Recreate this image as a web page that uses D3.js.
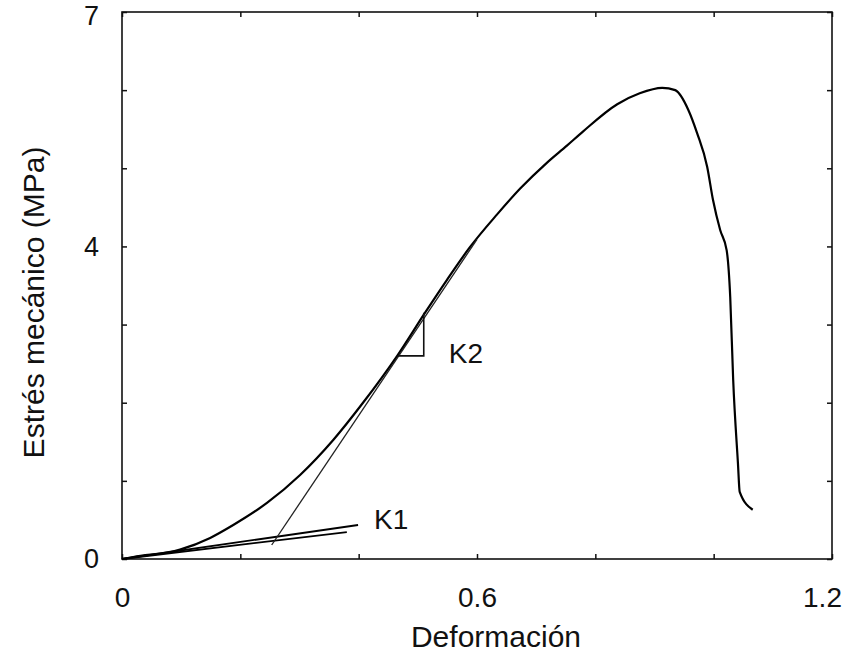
<!DOCTYPE html>
<html>
<head>
<meta charset="utf-8">
<script src="https://cdn.jsdelivr.net/npm/d3@7/dist/d3.min.js"></script>
<style>
  body { margin: 0; background: #fff; }
  text { font-family: "Liberation Sans", Arial, sans-serif; fill: #111; }
</style>
</head>
<body>
<div class="chart"></div>
<script>
// curve data
const strain = [0, 0.019, 0.098, 0.149, 0.188, 0.245, 0.301, 0.357, 0.407, 0.466, 0.512, 0.549, 0.588,
  0.634, 0.673, 0.718, 0.752, 0.779, 0.837, 0.875, 0.913, 0.935, 0.957, 0.972, 0.989, 0.999,
  1.011, 1.022, 1.028, 1.033, 1.041, 1.044, 1.066];
const stress = [0, 0.026, 0.12, 0.27, 0.435, 0.717, 1.075, 1.523, 1.996, 2.61, 3.15, 3.57, 3.99,
  4.41, 4.74, 5.07, 5.29, 5.47, 5.82, 5.96, 6.03, 6.00, 5.75, 5.45, 5.02, 4.59,
  4.21, 3.95, 3.35, 2.29, 1.23, 0.86, 0.63];

// tangent lines
const k1Line = [[0, 0], [0.399, 0.435]];
const k1Line2 = [[0, 0], [0.380, 0.345]];
const k2Line = [[0.253, 0.179], [0.600, 4.09]];
const k2Triangle = [[0.466, 2.60], [0.510, 2.60], [0.510, 3.15]];

const xTicks = [0, 0.2, 0.4, 0.6, 0.8, 1.0, 1.2];
const xLabels = [0, 0.6, 1.2];
const yTicks = [0, 1, 2, 3, 4, 5, 6, 7];
const yLabels = [0, 4, 7];

const margin = {top: 12, right: 18, bottom: 101, left: 122},
    width = 850 - margin.left - margin.right,
    height = 660 - margin.top - margin.bottom;

const svg = d3.select(".chart")
  .append("svg")
    .attr("width", 850)
    .attr("height", 660)
  .append("g")
    .attr("transform", `translate(${margin.left},${margin.top})`);

const x = d3.scaleLinear().domain([0, 1.2]).range([0, width]);
const y = d3.scaleLinear().domain([0, 7]).range([height, 0]);

// axes, ticks pointing inward
function styleAxis(g) {
  g.select(".domain").remove();
  g.selectAll(".tick line").attr("stroke", "#111").attr("stroke-width", 1.5);
}

svg.append("g")
  .attr("transform", `translate(0,${height})`)
  .call(d3.axisBottom(x).tickValues(xTicks).tickSize(-5).tickPadding(28)
    .tickFormat(d => xLabels.includes(d) ? d3.format("")(d) : ""))
  .call(styleAxis)
  .selectAll("text")
    .style("font-size", "28px")
    .attr("dx", d => d === 1.2 ? -10 : 0);

svg.append("g")
  .call(d3.axisTop(x).tickValues(xTicks).tickSize(-5).tickFormat(""))
  .call(styleAxis);

svg.append("g")
  .call(d3.axisLeft(y).tickValues(yTicks).tickSize(-5).tickPadding(23)
    .tickFormat(d => yLabels.includes(d) ? d : ""))
  .call(styleAxis)
  .selectAll("text")
    .style("font-size", "27px")
    .attr("dy", d => d === 7 ? "0.45em" : "0.32em");

svg.append("g")
  .attr("transform", `translate(${width},0)`)
  .call(d3.axisRight(y).tickValues(yTicks).tickSize(-5).tickFormat(""))
  .call(styleAxis);

// frame
svg.append("rect")
  .attr("width", width)
  .attr("height", height)
  .attr("fill", "none")
  .attr("stroke", "#111")
  .attr("stroke-width", 1.6);

const line = d3.line().x(d => x(d[0])).y(d => y(d[1]));

// main curve
svg.append("path")
  .datum(strain.map((s, i) => [s, stress[i]]))
  .attr("fill", "none")
  .attr("stroke", "#000")
  .attr("stroke-width", 2.2)
  .attr("stroke-linejoin", "round")
  .attr("d", line.curve(d3.curveMonotoneX));

line.curve(d3.curveLinear);

[k1Line, k1Line2].forEach(l => {
  svg.append("path")
    .datum(l)
    .attr("fill", "none")
    .attr("stroke", "#000")
    .attr("stroke-width", 1.8)
    .attr("d", line);
});

svg.append("path")
  .datum(k2Line)
  .attr("fill", "none")
  .attr("stroke", "#222")
  .attr("stroke-width", 1.3)
  .attr("d", line);

svg.append("path")
  .datum(k2Triangle)
  .attr("fill", "none")
  .attr("stroke", "#111")
  .attr("stroke-width", 1.6)
  .attr("d", line);

// labels
svg.append("text")
  .attr("x", x(0.399) + 16)
  .attr("y", y(0.435) + 4)
  .style("font-size", "28px")
  .text("K1");

svg.append("text")
  .attr("x", x(0.510) + 25)
  .attr("y", y(2.60) + 7)
  .style("font-size", "28px")
  .text("K2");

svg.append("text")
  .attr("x", width / 2 + 19)
  .attr("y", height + 88)
  .attr("text-anchor", "middle")
  .style("font-size", "30px")
  .text("Deformación");

svg.append("text")
  .attr("transform", `translate(${-78},${height / 2 + 17}) rotate(-90)`)
  .attr("text-anchor", "middle")
  .style("font-size", "30px")
  .text("Estrés mecánico (MPa)");
</script>
</body>
</html>
